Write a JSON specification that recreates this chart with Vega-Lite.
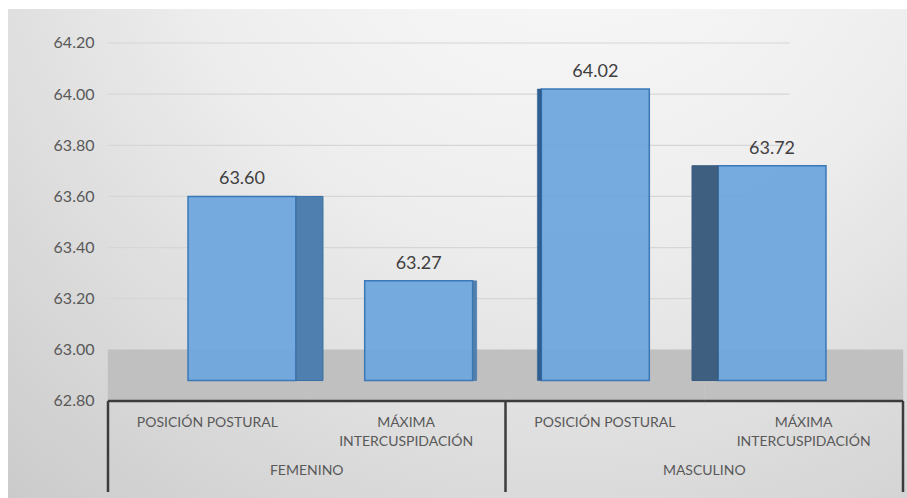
{
  "$schema": "https://vega.github.io/schema/vega-lite/v6.json",
  "width": 899,
  "height": 489,
  "autosize": {"type": "none"},
  "padding": {"left": 8, "top": 9, "right": 0, "bottom": 0},
  "background": "#ffffff",
  "config": {
    "font": "Lato",
    "view": {
      "stroke": null,
      "fill": {
        "gradient": "radial",
        "x1": 0.62, "y1": 0.05, "r1": 0,
        "x2": 0.62, "y2": 0.05, "r2": 0.95,
        "stops": [
          {"offset": 0, "color": "#fbfbfb"},
          {"offset": 0.45, "color": "#eeeeee"},
          {"offset": 1, "color": "#cbcbcb"}
        ]
      }
    }
  },
  "datasets": {
    "medias": [
      {"key": "F-PP", "grupo": "FEMENINO", "sub": "POSICIÓN POSTURAL", "valor": 63.60},
      {"key": "F-MI", "grupo": "FEMENINO", "sub": "MÁXIMA\nINTERCUSPIDACIÓN", "valor": 63.27},
      {"key": "M-PP", "grupo": "MASCULINO", "sub": "POSICIÓN POSTURAL", "valor": 64.02},
      {"key": "M-MI", "grupo": "MASCULINO", "sub": "MÁXIMA\nINTERCUSPIDACIÓN", "valor": 63.72}
    ],
    "grupos": [
      {"grupo": "FEMENINO", "inicio": "F-PP"},
      {"grupo": "MASCULINO", "inicio": "M-PP"}
    ],
    "rejilla": [
      {"v": 63.2}, {"v": 63.4}, {"v": 63.6}, {"v": 63.8}, {"v": 64.0}, {"v": 64.2}
    ]
  },
  "layer": [
    {
      "layer": [
        {
          "data": {"name": "medias"},
          "mark": {"type": "rect", "fill": "#c0c0c0", "stroke": "#c0c0c0", "strokeWidth": 0.5},
          "encoding": {
            "x": {"field": "key", "type": "nominal", "axis": null,
                  "scale": {"domain": ["F-PP", "F-MI", "M-PP", "M-MI"], "range": [100, 895], "paddingInner": 0, "paddingOuter": 0}},
            "y": {"datum": 62.8},
            "y2": {"datum": 63.0}
          }
        },
        {
          "data": {"name": "rejilla"},
          "transform": [
            {"calculate": "['F-PP', 'F-MI', 'M-PP']", "as": "k"},
            {"flatten": ["k"]}
          ],
          "mark": {"type": "tick", "orient": "horizontal", "size": 199, "thickness": 1.2, "color": "#d6d6d6", "opacity": 1},
          "encoding": {
            "x": {"field": "k", "type": "nominal", "axis": null},
            "y": {"field": "v", "type": "quantitative"}
          }
        },
        {
          "data": {"name": "rejilla"},
          "transform": [
            {"calculate": "'M-MI'", "as": "k"}
          ],
          "mark": {"type": "tick", "orient": "horizontal", "size": 85, "xOffset": -56.5, "thickness": 1.2, "color": "#d6d6d6", "opacity": 1},
          "encoding": {
            "x": {"field": "k", "type": "nominal", "axis": null},
            "y": {"field": "v", "type": "quantitative"}
          }
        },
        {
          "data": {"name": "medias"},
          "mark": {"type": "tick", "orient": "horizontal", "size": 199, "thickness": 2.5, "color": "#3c3c3c", "opacity": 1},
          "encoding": {
            "x": {"field": "key", "type": "nominal", "axis": null},
            "y": {"datum": 62.8,
                  "scale": {"domain": [62.42067, 64.33296], "nice": false, "zero": false},
                  "axis": {"values": [62.8, 63.0, 63.2, 63.4, 63.6, 63.8, 64.0, 64.2], "format": ".2f",
                           "domain": false, "ticks": false, "grid": false, "offset": -90, "labelPadding": 4,
                           "labelFontSize": 16, "labelColor": "#595959", "title": null}}
          }
        },
        {
          "data": {"name": "grupos"},
          "mark": {"type": "rule", "stroke": "#3c3c3c", "strokeWidth": 2.5},
          "encoding": {
            "x": {"field": "inicio", "type": "nominal", "bandPosition": 0, "axis": null},
            "y": {"datum": 62.8},
            "y2": {"datum": 62.444}
          }
        },
        {
          "data": {"name": "medias"},
          "transform": [{"filter": "datum.key === 'M-MI'"}],
          "mark": {"type": "rule", "stroke": "#3c3c3c", "strokeWidth": 2.5},
          "encoding": {
            "x": {"field": "key", "type": "nominal", "bandPosition": 1, "axis": null},
            "y": {"datum": 62.8},
            "y2": {"datum": 62.444}
          }
        },
        {
          "data": {"name": "medias"},
          "mark": {"type": "text", "baseline": "top", "lineBreak": "\n", "lineHeight": 19, "fontSize": 14, "color": "#595959"},
          "encoding": {
            "x": {"field": "key", "type": "nominal", "axis": null},
            "y": {"datum": 62.7413},
            "text": {"field": "sub", "type": "nominal"}
          }
        },
        {
          "data": {"name": "grupos"},
          "mark": {"type": "text", "baseline": "top", "fontSize": 14, "color": "#595959"},
          "encoding": {
            "x": {"field": "inicio", "type": "nominal", "bandPosition": 1, "axis": null},
            "y": {"datum": 62.5536},
            "text": {"field": "grupo", "type": "nominal"}
          }
        }
      ]
    },
    {
      "layer": [
        {
          "data": {"name": "medias"},
          "mark": {"type": "bar", "width": {"band": 0.611}, "fill": "#6fa7dd", "fillOpacity": 0.95, "stroke": "#3a78b8", "strokeWidth": 1.5},
          "encoding": {
            "x": {"field": "key", "type": "nominal", "axis": null,
                  "scale": {"domain": ["F-PP", "F-MI", "M-PP", "M-MI"], "range": [145.65, 852.35], "paddingInner": 0, "paddingOuter": 0}},
            "y": {"field": "valor", "type": "quantitative"},
            "y2": {"datum": 62.88}
          }
        },
        {
          "data": {"name": "medias"},
          "transform": [{"filter": "datum.key === 'F-PP'"}],
          "mark": {"type": "bar", "width": 27, "xOffset": 67.5, "fill": "#4f7fae", "stroke": "#3a6fa5", "strokeWidth": 1},
          "encoding": {
            "x": {"field": "key", "type": "nominal", "axis": null},
            "y": {"field": "valor", "type": "quantitative"},
            "y2": {"datum": 62.88}
          }
        },
        {
          "data": {"name": "medias"},
          "transform": [{"filter": "datum.key === 'F-MI'"}],
          "mark": {"type": "bar", "width": 4, "xOffset": 56, "fill": "#4f7fae", "stroke": "#3a6fa5", "strokeWidth": 0.5},
          "encoding": {
            "x": {"field": "key", "type": "nominal", "axis": null},
            "y": {"field": "valor", "type": "quantitative"},
            "y2": {"datum": 62.88}
          }
        },
        {
          "data": {"name": "medias"},
          "transform": [{"filter": "datum.key === 'M-PP'"}],
          "mark": {"type": "bar", "width": 4, "xOffset": -56, "fill": "#2f5f90", "stroke": "#2f5f90", "strokeWidth": 0.5},
          "encoding": {
            "x": {"field": "key", "type": "nominal", "axis": null},
            "y": {"field": "valor", "type": "quantitative"},
            "y2": {"datum": 62.88}
          }
        },
        {
          "data": {"name": "medias"},
          "transform": [{"filter": "datum.key === 'M-MI'"}],
          "mark": {"type": "bar", "width": 26, "xOffset": -67, "fill": "#3f5f80", "stroke": "#355a80", "strokeWidth": 1},
          "encoding": {
            "x": {"field": "key", "type": "nominal", "axis": null},
            "y": {"field": "valor", "type": "quantitative"},
            "y2": {"datum": 62.88}
          }
        },
        {
          "data": {"name": "medias"},
          "mark": {"type": "text", "dy": -12, "baseline": "alphabetic", "fontSize": 18, "color": "#404040"},
          "encoding": {
            "x": {"field": "key", "type": "nominal", "axis": null},
            "y": {"field": "valor", "type": "quantitative"},
            "text": {"field": "valor", "type": "quantitative", "format": ".2f"}
          }
        }
      ]
    }
  ],
  "resolve": {"scale": {"x": "independent"}}
}
